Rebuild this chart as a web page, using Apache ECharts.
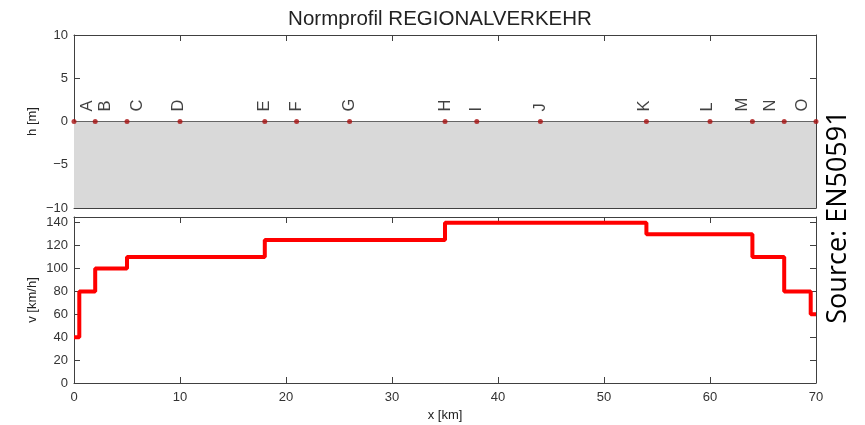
<!DOCTYPE html>
<html>
<head>
<meta charset="utf-8">
<script src="https://cdn.jsdelivr.net/npm/echarts@6/dist/echarts.min.js"></script>
<style>html,body{margin:0;padding:0;background:#fff}#c{width:865px;height:425px}</style>
</head>
<body>
<div id="c"></div>
<script>
// ---- data ----
const titleText = 'Normprofil REGIONALVERKEHR';
const sourceText = 'Source: EN50591';
const stationNames = ['A','B','C','D','E','F','G','H','I','J','K','L','M','N','O'];
const stationKm = [0, 2, 5, 10, 18, 21, 26, 35, 38, 44, 54, 60, 64, 67, 70];
const stationH = [0, 0, 0, 0, 0, 0, 0, 0, 0, 0, 0, 0, 0, 0, 0];
const levelKm = [0, 70];
const levelH = [0, 0];
const speedKm = [0, 0.5, 2, 5, 18, 35, 54, 64, 67, 69.5, 70];
const speedKmh = [40, 80, 100, 110, 125, 140, 130, 110, 80, 60, 60];
const hTicks = [-10, -5, 0, 5, 10];
const vTicks = [0, 20, 40, 60, 80, 100, 120, 140];
const xTicks = [0, 10, 20, 30, 40, 50, 60, 70];

// label horizontal shifts (px), style only
const labelShift = [13, 10, 10, -2, 0, 0, 0, 0, 0, 0, -2, -3, -10, -14, -14];

const FONT = 'Liberation Sans, Arial, Helvetica, sans-serif';
const axisColor = '#404040';
const minusFmt = v => String(v).replace('-', '\u2212');

function boxX(gridIndex, pos, showLabels, name) {
  return {
    type: 'value', gridIndex, position: pos, min: xTicks[0], max: xTicks[xTicks.length - 1], interval: 10,
    axisLine: { show: true, onZero: false, lineStyle: { color: axisColor, width: 1 } },
    axisTick: { show: true, inside: true, length: 6, lineStyle: { color: axisColor } },
    axisLabel: { show: showLabels, color: '#333', fontSize: 13, fontFamily: FONT, margin: 8 },
    splitLine: { show: false },
    name: name || '', nameLocation: 'middle', nameGap: 26, nameMoveOverlap: false,
    nameTextStyle: { color: '#222', fontSize: 13, fontFamily: FONT }
  };
}
function boxY(gridIndex, pos, showLabels, ticks, iv, name, maxv) {
  return {
    type: 'value', gridIndex, position: pos, min: ticks[0], max: maxv, interval: iv,
    axisLine: { show: true, onZero: false, lineStyle: { color: axisColor, width: 1 } },
    axisTick: { show: true, inside: true, length: 6, lineStyle: { color: axisColor } },
    axisLabel: { show: showLabels, color: '#333', fontSize: 13, fontFamily: FONT, margin: 6,
      showMaxLabel: maxv === ticks[ticks.length - 1],
      formatter: minusFmt },
    splitLine: { show: false },
    name: name || '', nameLocation: 'middle', nameGap: 35, nameMoveOverlap: false,
    nameTextStyle: { color: '#222', fontSize: 13, fontFamily: FONT }
  };
}

const chart = echarts.init(document.getElementById('c'), null, { renderer: 'canvas' });
chart.setOption({
  animation: false,
  backgroundColor: '#fff',
  title: {
    text: titleText, left: 435, top: 4, textAlign: 'center',
    textStyle: { fontFamily: FONT, fontSize: 20.5, fontWeight: 'normal', color: '#222' }
  },
  graphic: [{
    type: 'text', x: 838, y: 217, rotation: Math.PI / 2,
    style: { text: sourceText, font: '27px "Open Sans", sans-serif', fill: '#000',
      textAlign: 'center', textVerticalAlign: 'middle' }
  }],
  grid: [
    { left: 74, right: 49, top: 35, height: 173 },
    { left: 74, right: 49, top: 217, height: 166 }
  ],
  xAxis: [
    boxX(0, 'bottom', false), boxX(0, 'top', false),
    boxX(1, 'bottom', true, 'x [km]'), boxX(1, 'top', false)
  ],
  yAxis: [
    boxY(0, 'left', true, hTicks, 5, 'h [m]', 10), boxY(0, 'right', false, hTicks, 5, '', 10),
    boxY(1, 'left', true, vTicks, 20, 'v [km/h]', 145), boxY(1, 'right', false, vTicks, 20, '', 145)
  ],
  series: [
    {
      type: 'line', xAxisIndex: 0, yAxisIndex: 0, symbol: 'none',
      data: levelKm.map((x, i) => [x, levelH[i]]),
      lineStyle: { color: '#666', width: 1 },
      areaStyle: { color: '#d9d9d9', opacity: 1, origin: 'start' },
      z: 1
    },
    {
      type: 'scatter', xAxisIndex: 0, yAxisIndex: 0, symbolSize: 5, clip: false,
      itemStyle: { color: '#a81010' },
      data: stationKm.map((x, i) => ({
        value: [x, stationH[i]],
        label: { offset: [10, labelShift[i]] }
      })),
      label: {
        show: true, position: 'inside', rotate: 90, align: 'left', verticalAlign: 'middle',
        formatter: p => stationNames[p.dataIndex],
        color: '#111', fontSize: 16.5, fontFamily: FONT
      },
      z: 3
    },
    {
      type: 'line', xAxisIndex: 2, yAxisIndex: 2, symbol: 'none', step: 'end',
      data: speedKm.map((x, i) => [x, speedKmh[i]]),
      lineStyle: { color: '#ff0000', width: 4 },
      z: 3
    }
  ]
});
</script>
</body>
</html>
